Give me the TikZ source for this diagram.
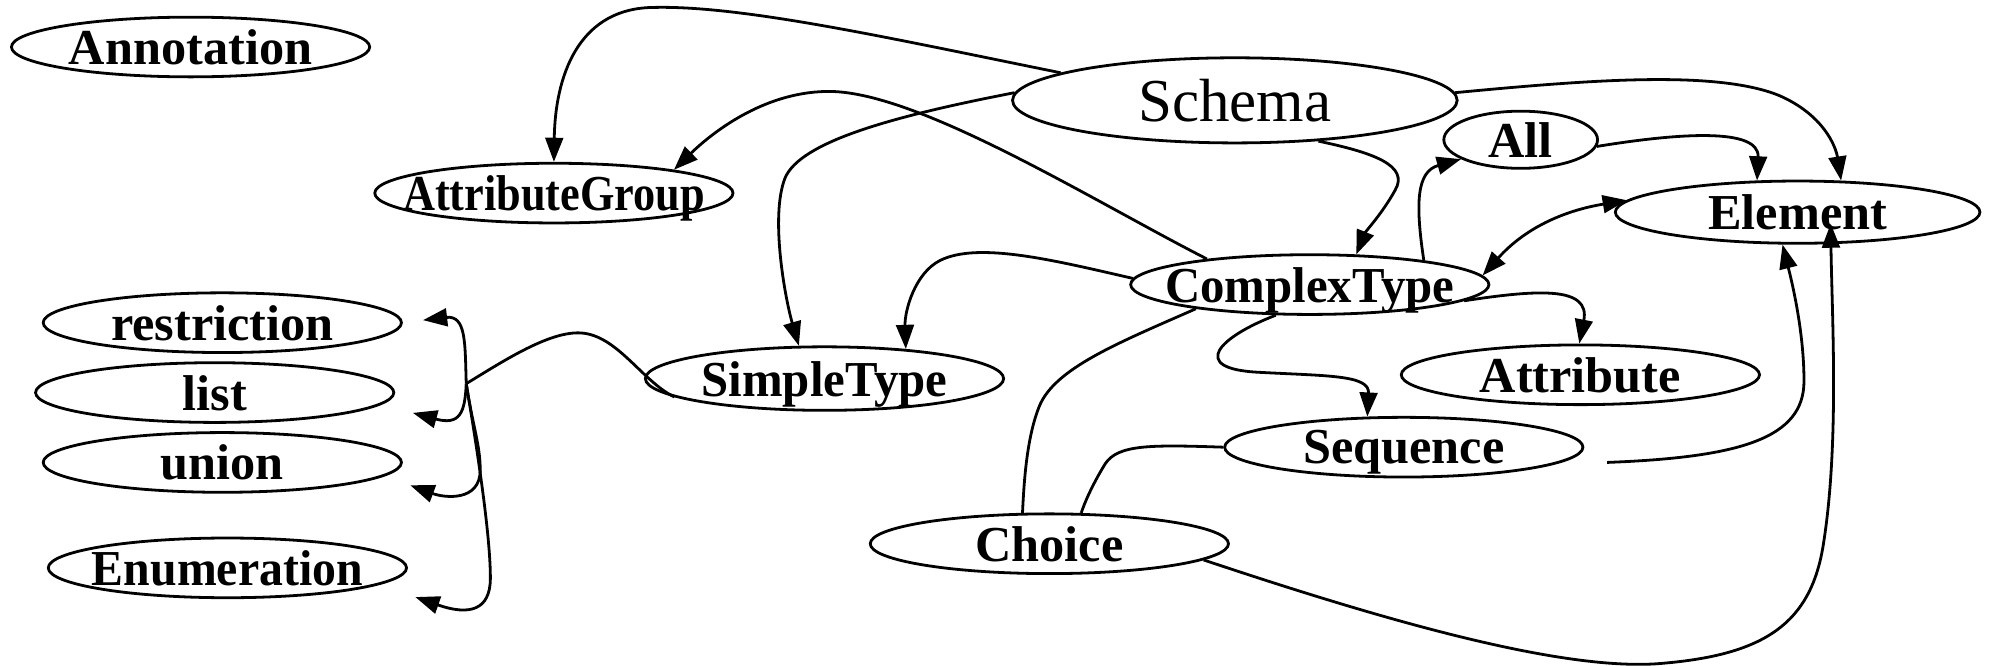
\documentclass[tikz,border=0pt]{standalone}
\usepackage{fontspec}
\usepackage{graphicx}
\setmainfont{Liberation Serif}
\usetikzlibrary{shapes.geometric,arrows.meta,calc}
\newcommand{\zb}[1]{\makebox[0pt]{#1}}
\begin{document}
\begin{tikzpicture}[x=0.5pt,y=-0.5pt,
  nd/.style={ellipse,draw,line width=1.1pt,inner sep=0pt,minimum width=141pt,minimum height=23.5pt,
    font=\fontsize{19.8}{20}\selectfont\bfseries,text depth=0pt},
  ed/.style={line width=1.1pt,-{Triangle[length=9.5pt,width=7pt]}},
  bi/.style={line width=1.1pt,{Triangle[length=9.5pt,width=7pt]}-{Triangle[length=9.5pt,width=7pt]}},
  ln/.style={line width=1.1pt}]
\useasboundingbox (0,0) rectangle (1568,524);

\node[nd] (Annotation) at (150,37) {\zb{Annotation}};
\node[nd] (AttributeGroup) at (436,152) {\zb{\scalebox{0.88}[1]{AttributeGroup}}};
\node[nd,minimum width=175pt,minimum height=33.5pt,font=\fontsize{24}{26}\selectfont] (Schema) at (972,79) {\zb{Schema}};
\node[nd,minimum width=60.5pt,minimum height=22.5pt] (All) at (1197,110) {\zb{All}};
\node[nd,minimum width=143.5pt,minimum height=24.5pt] (Element) at (1415,167) {\zb{Element}};
\node[nd] (ComplexType) at (1031,224) {\zb{\scalebox{0.97}[1]{ComplexType}}};
\node[nd] (restriction) at (175,254) {\zb{restriction}};
\node[nd] (list) at (169,309) {\zb{list}};
\node[nd] (union) at (175,364) {\zb{union}};
\node[nd] (Enumeration) at (179,447) {\zb{\scalebox{0.95}[1]{Enumeration}}};
\node[nd,minimum height=25pt] (SimpleType) at (649,298) {\zb{\scalebox{0.97}[1]{SimpleType}}};
\node[nd] (Attribute) at (1244,295) {\zb{Attribute}};
\node[nd] (Sequence) at (1105,352) {\zb{Sequence}};
\node[nd] (Choice) at (826,428) {\zb{Choice}};

\coordinate (st) at (367,302);
\coordinate (rtip) at (333,252);
\coordinate (ltip) at (325,325);
\coordinate (utip) at (323,382);
\coordinate (etip) at (327,470);
\coordinate (seqout) at (1265,364);
\coordinate (elemin) at ($(Element.center)+(26,9)$);

% Schema -> AttributeGroup
\draw[ed] (Schema.171) .. controls (700,30) and (580,3) .. (510,6)
  .. controls (455,9) and (437,60) .. (AttributeGroup.90);
% ComplexType -> AttributeGroup
\draw[ed] (ComplexType.166) .. controls (860,158) and (720,70) .. (650,72)
  .. controls (600,73) and (560,105) .. (AttributeGroup.11);
% Schema -> SimpleType
\draw[ed] (Schema.178) .. controls (700,92) and (630,112) .. (618,140)
  .. controls (606,170) and (618,235) .. (SimpleType.128);
% Schema -> Element
\draw[ed] (Schema.2.3) .. controls (1250,63) and (1350,55) .. (1400,75)
  .. controls (1435,90) and (1445,115) .. (Element.36);
% Schema -> ComplexType
\draw[ed] (Schema.-26) .. controls (1080,120) and (1110,130) .. (1098,150)
  .. controls (1088,168) and (1075,182) .. (ComplexType.33);
% All -> Element
\draw[ed] (All.-5) .. controls (1320,105) and (1385,100) .. (Element.142);
% ComplexType -> All
\draw[ed] (ComplexType.12) .. controls (1114,160) and (1115,135) .. (All.-162);
% Element <-> ComplexType
\draw[bi] (Element.176) .. controls (1230,166) and (1200,180) .. (ComplexType.3.5);
% ComplexType -> SimpleType
\draw[ed] (ComplexType.178) .. controls (830,205) and (770,190) .. (740,205)
  .. controls (720,215) and (712,245) .. (SimpleType.20);
% ComplexType -> Attribute
\draw[ed] (ComplexType.-6) .. controls (1210,228) and (1252,225) .. (Attribute.92);
% ComplexType -> Sequence
\draw[ed] (ComplexType.-138) .. controls (960,265) and (935,290) .. (990,293)
  .. controls (1045,296) and (1078,295) .. (Sequence.140);
% ComplexType -- Choice
\draw[ln] (ComplexType.-168) .. controls (880,270) and (830,290) .. (818,320)
  .. controls (808,345) and (806,380) .. (Choice.131);
% Sequence -- Choice
\draw[ln] (Sequence.180) .. controls (905,350) and (880,350) .. (870,365)
  .. controls (862,378) and (855,392) .. (Choice.44);
% Sequence -> Element
\draw[ed] (seqout) .. controls (1370,360) and (1420,345) .. (1420,300)
  .. controls (1420,260) and (1410,220) .. (Element.-115);
% Choice -> Element
\draw[ed] (Choice.-6.5) .. controls (1080,485) and (1230,530) .. (1310,522)
  .. controls (1390,515) and (1425,490) .. (1435,430)
  .. controls (1448,350) and (1442,250) .. (elemin);
% SimpleType -> restriction/list/union/Enumeration
\draw[ln] (SimpleType.-173) .. controls (505,300) and (485,262) .. (455,262)
  .. controls (430,262) and (395,285) .. (st);
\draw[ed] (st) .. controls (366,270) and (367,248) .. (rtip);
\draw[ed] (st) .. controls (366,325) and (362,335) .. (ltip);
\draw[ed] (st) .. controls (372,335) and (378,350) .. (378,370)
  .. controls (378,395) and (350,392) .. (utip);
\draw[ed] (st) .. controls (375,350) and (386,420) .. (386,455)
  .. controls (386,480) and (370,485) .. (etip);
\end{tikzpicture}
\end{document}
